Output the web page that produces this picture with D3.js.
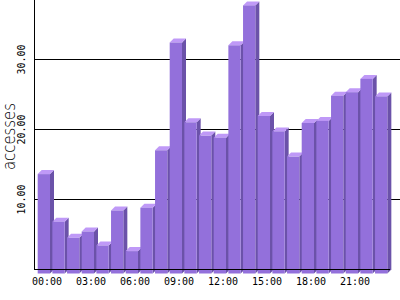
<!DOCTYPE html>
<html>
<head>
<meta charset="utf-8">
<script src="https://cdn.jsdelivr.net/npm/d3@7"></script>
<style>
  body { margin: 0; background: #fff; }
  svg { display: block; }
</style>
</head>
<body>
<svg></svg>
<script>
var hours = ["00:00","01:00","02:00","03:00","04:00","05:00","06:00","07:00","08:00","09:00","10:00","11:00",
             "12:00","13:00","14:00","15:00","16:00","17:00","18:00","19:00","20:00","21:00","22:00","23:00"];
var accesses = [14.2, 7.4, 5.1, 6.0, 4.0, 9.0, 3.2, 9.4, 17.6, 33.0, 21.6, 19.7,
                19.4, 32.6, 38.3, 22.5, 20.3, 16.7, 21.5, 21.8, 25.4, 25.9, 27.8, 25.3];
var yTicks = [10, 20, 30];
var yLabel = "accesses";

var width = 400, height = 300;
var depth = 4; // 3d offset of the bars
var mono = "'DejaVu Sans Mono', 'Liberation Mono', monospace";

var svg = d3.select("svg").attr("width", width).attr("height", height);

var x = d3.scaleBand().domain(hours).range([35, 387]).paddingInner(0).paddingOuter(0);
var y = d3.scaleLinear().domain([0, 40]).range([269.5, -10.5]);

// grid lines on the back plane
svg.selectAll("line.grid")
    .data(yTicks)
    .enter().append("line")
    .attr("class", "grid")
    .attr("x1", 35).attr("x2", 400)
    .attr("y1", function(d){ return Math.round(y(d)) - 0.5; })
    .attr("y2", function(d){ return Math.round(y(d)) - 0.5; })
    .attr("stroke", "#000").attr("stroke-width", 1);

// bars, left to right so the next front face covers the previous side
var bar = svg.selectAll("g.bar")
    .data(accesses)
    .enter().append("g")
    .attr("class", "bar");

function geo(d, i){
    var x0 = x(hours[i]) + 2.7;
    var w = 12.3;
    var top = y(d) + depth;
    var bottom = y(0) + depth;
    return {x0: x0, x1: x0 + w, top: top, bottom: bottom};
}

bar.append("polygon")
    .attr("fill", "#6b52a9")
    .attr("points", function(d, i){
        var g = geo(d, i);
        return [[g.x1, g.top], [g.x1 + depth, g.top - depth], [g.x1 + depth, g.bottom - depth], [g.x1, g.bottom]].join(" ");
    });
bar.append("polygon")
    .attr("fill", "#bf99f7")
    .attr("points", function(d, i){
        var g = geo(d, i);
        return [[g.x0, g.top], [g.x0 + depth, g.top - depth], [g.x1 + depth, g.top - depth], [g.x1, g.top]].join(" ");
    });
bar.append("rect")
    .attr("fill", "#9370db")
    .attr("x", function(d, i){ return geo(d, i).x0; })
    .attr("y", function(d, i){ return geo(d, i).top; })
    .attr("width", 12.3)
    .attr("height", function(d, i){ var g = geo(d, i); return g.bottom - g.top; });

// axes
svg.append("line")
    .attr("x1", 34.5).attr("x2", 34.5).attr("y1", 0).attr("y2", 270)
    .attr("stroke", "#000");
svg.append("line")
    .attr("x1", 34).attr("x2", 390).attr("y1", 269.5).attr("y2", 269.5)
    .attr("stroke", "#000");

// y tick labels, rotated
svg.selectAll("text.ytick")
    .data(yTicks)
    .enter().append("text")
    .attr("class", "ytick")
    .attr("transform", function(d){ return "translate(25," + y(d) + ") rotate(-90)"; })
    .attr("text-anchor", "middle")
    .attr("font-family", mono).attr("font-size", "10px")
    .text(function(d){ return d3.format(".2f")(d); });

// x labels every 3 hours
svg.selectAll("text.xtick")
    .data(hours.filter(function(d, i){ return i % 3 == 0; }))
    .enter().append("text")
    .attr("class", "xtick")
    .attr("x", function(d){ return x(d) + 12; })
    .attr("y", 285)
    .attr("text-anchor", "middle")
    .attr("font-family", mono).attr("font-size", "10px")
    .text(function(d){ return d; });

// y axis title
svg.append("text")
    .attr("transform", "translate(15,136.5) rotate(-90)")
    .attr("text-anchor", "middle")
    .attr("font-family", "'DejaVu Sans', sans-serif")
    .attr("font-weight", 300)
    .attr("font-size", "17px")
    .attr("textLength", 67)
    .attr("lengthAdjust", "spacingAndGlyphs")
    .text(yLabel);
</script>
</body>
</html>
